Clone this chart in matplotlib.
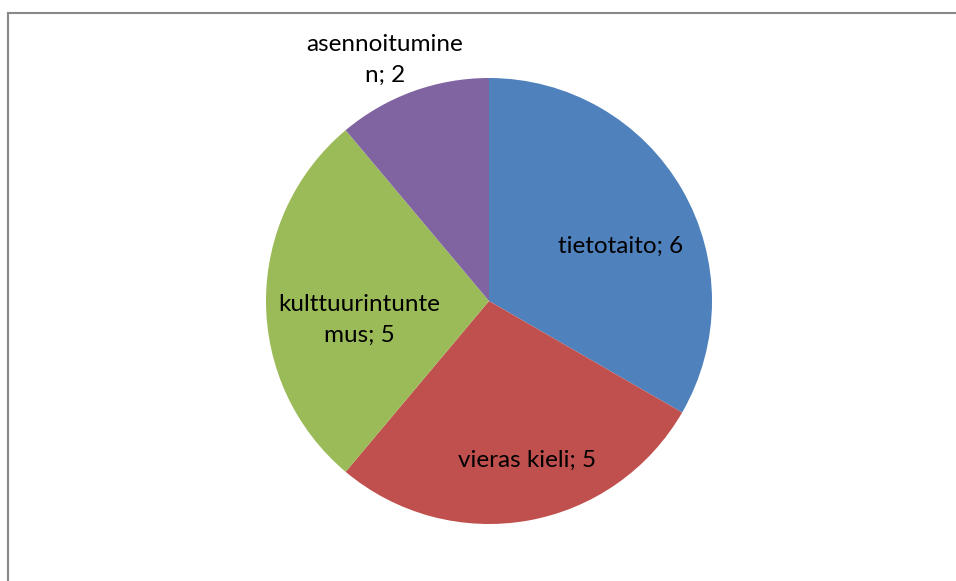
import matplotlib
matplotlib.use("Agg")
import matplotlib.pyplot as plt
from matplotlib.lines import Line2D

categories = ["tietotaito", "vieras kieli", "kulttuurintuntemus", "asennoituminen"]
values = [6, 5, 5, 2]
label_texts = ["tietotaito; 6", "vieras kieli; 5", "kulttuurintunte\nmus; 5", "asennoitumine\nn; 2"]
colors = ["#4F81BD", "#C0504D", "#9BBB59", "#8064A2"]

W, H = 956, 581
fig = plt.figure(figsize=(W / 100, H / 100), dpi=100)
fig.patch.set_facecolor("white")

cx, cy, r = 489, 301, 223
ax = fig.add_axes([(cx - r) / W, (H - cy - r) / H, 2 * r / W, 2 * r / H])
ax.pie(values, colors=colors, startangle=90, counterclock=False,
       wedgeprops=dict(linewidth=0), radius=1)
ax.set_xlim(-1, 1)
ax.set_ylim(-1, 1)
ax.set_aspect("equal")
ax.axis("off")

# label positions in pixels (top-left origin)
label_pos = [(621, 246), (527, 460), (359, 320), (385, 60)]
for txt, (px, py) in zip(label_texts, label_pos):
    fig.text(px / W, 1 - py / H, txt, ha="center", va="center",
             fontsize=17.5, family=["Lato", "DejaVu Sans"], color="black",
             linespacing=1.6)

# chart border (top and left)
fig.add_artist(Line2D([8 / W, 8 / W], [0, 1 - 13 / H], transform=fig.transFigure,
                      color="#888888", linewidth=1.5))
fig.add_artist(Line2D([8 / W, 1], [1 - 13 / H, 1 - 13 / H], transform=fig.transFigure,
                      color="#888888", linewidth=1.5))

fig.savefig("out.png", dpi=100)
